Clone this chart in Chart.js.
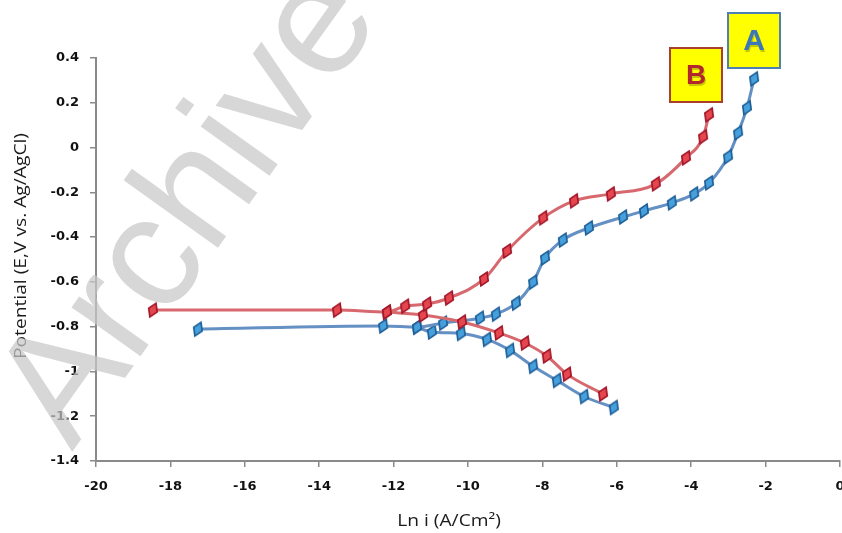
<!DOCTYPE html>
<html><head><meta charset="utf-8">
<script src="https://cdn.jsdelivr.net/npm/chart.js@4.4.1/dist/chart.umd.min.js"></script>
<style>html,body{margin:0;padding:0;background:#fff}canvas{display:block}</style>
</head><body>
<canvas id="c" width="842" height="533"></canvas>
<script>
// ---- data ----
const xTitle = 'Ln i (A/Cm\u00B2)';
const yTitle = 'Potential (E,V vs. Ag/AgCl)';
const xMin = -20, xMax = 0, xStep = 2;
const yMin = -1.4, yMax = 0.4, yStep = 0.2;

// Curve B (red)
const lnB_anodic = [-18.47, -13.52, -12.18, -11.69, -11.10, -10.51, -9.57, -8.95, -7.98, -7.15, -6.16, -4.95, -4.14, -3.68, -3.52];
const eB_anodic  = [-0.726, -0.726, -0.735, -0.708, -0.699, -0.672, -0.587, -0.462, -0.314, -0.238, -0.207, -0.162, -0.046, 0.048, 0.146];
const lnB_cathodic = [-12.18, -11.21, -10.16, -9.17, -8.47, -7.88, -7.34, -6.37];
const eB_cathodic  = [-0.735, -0.748, -0.779, -0.828, -0.873, -0.931, -1.012, -1.101];

// Curve A (blue)
const lnA_anodic = [-17.26, -12.28, -11.37, -10.67, -9.68, -9.25, -8.71, -8.25, -7.93, -7.45, -6.75, -5.83, -5.27, -4.52, -3.92, -3.52, -3.01, -2.74, -2.50, -2.31];
const eA_anodic  = [-0.811, -0.797, -0.802, -0.784, -0.762, -0.744, -0.695, -0.601, -0.493, -0.413, -0.359, -0.310, -0.283, -0.247, -0.207, -0.158, -0.041, 0.066, 0.178, 0.307];
const lnA_cathodic = [-11.37, -10.97, -10.19, -9.49, -8.87, -8.25, -7.61, -6.88, -6.08];
const eA_cathodic  = [-0.802, -0.824, -0.830, -0.857, -0.906, -0.977, -1.040, -1.112, -1.161];

const labelA = 'A', labelB = 'B';
const watermark = 'Archive';

function pts(xs, ys){ return xs.map((x,i)=>({x:x, y:ys[i]})); }

function diamond(fill, stroke){
  const c = document.createElement('canvas');
  c.width = 18; c.height = 18;
  const g = c.getContext('2d');
  g.translate(9,9);
  g.rotate(-1.15);
  g.beginPath();
  g.moveTo(-7.5,0); g.lineTo(0,-4.6); g.lineTo(7.5,0); g.lineTo(0,4.6); g.closePath();
  g.fillStyle = fill; g.fill();
  g.lineWidth = 1.7; g.strokeStyle = stroke; g.stroke();
  return c;
}
const redMark = diamond('#e5474e', '#a3162a');
const blueMark = diamond('#45a0dc', '#1f5f98');

function ds(data, line, mark){
  return {data: data, showLine: true, borderColor: line, borderWidth: 3,
    cubicInterpolationMode: 'monotone', pointStyle: mark, pointRadius: 6, pointHoverRadius: 6,
    backgroundColor: line, fill: false};
}

const fixRight = {
  id: 'fixRight',
  afterLayout(chart){
    const target = chart.width - 2;
    const ca = chart.chartArea;
    if (ca.right !== target) {
      ca.right = target; ca.width = target - ca.left;
      const x = chart.scales.x;
      x.right = target; x.width = target - x.left;
      x.configure();
    }
  }
};

const decor = {
  id: 'decor',
  afterDraw(chart){
    const ctx = chart.ctx;
    ctx.save();
    // axis titles
    ctx.fillStyle = '#1a1a1a';
    ctx.font = '16px "Open Sans", "Liberation Sans", sans-serif';
    ctx.textAlign = 'center'; ctx.textBaseline = 'middle';
    ctx.save();
    ctx.translate(449, 521); ctx.scale(1.2, 1);
    ctx.fillText(xTitle, 0, 0);
    ctx.restore();
    ctx.save();
    ctx.translate(21, 246); ctx.rotate(-Math.PI/2); ctx.scale(1.2, 1);
    ctx.fillText(yTitle, 0, 0);
    ctx.restore();
    // label boxes
    function box(x, y, w, h, border, txt, col, size){
      ctx.fillStyle = '#ffff00'; ctx.fillRect(x, y, w, h);
      ctx.lineWidth = 2; ctx.strokeStyle = border; ctx.strokeRect(x, y, w, h);
      ctx.font = 'bold ' + size + 'px "Liberation Sans", Arial, sans-serif';
      ctx.textAlign = 'center'; ctx.textBaseline = 'middle';
      ctx.fillStyle = 'rgba(0,0,0,0.22)';
      ctx.fillText(txt, x + w/2 + 1, y + h/2 + 3);
      ctx.fillStyle = col;
      ctx.fillText(txt, x + w/2, y + h/2 + 1);
    }
    box(728, 13, 52, 55, '#4f80b4', labelA, '#3b78ba', 30);
    box(670, 48, 52, 54, '#a9402f', labelB, '#b3262c', 28);
    // watermark
    ctx.save();
    ctx.translate(72, 452);
    ctx.rotate(-0.95);
    ctx.font = '160px "Liberation Sans", Arial, sans-serif';
    ctx.textAlign = 'left'; ctx.textBaseline = 'alphabetic';
    ctx.fillStyle = 'rgba(200,200,200,0.72)';
    ctx.fillText(watermark, 0, 0);
    ctx.restore();
    ctx.restore();
  }
};

const tickFont = {family: '"DejaVu Sans", sans-serif', size: 13, weight: 'bold'};

new Chart(document.getElementById('c'), {
  type: 'scatter',
  data: { datasets: [
    ds(pts(lnB_anodic, eB_anodic), '#d7686e', redMark),
    ds(pts(lnB_cathodic, eB_cathodic), '#d7686e', redMark),
    ds(pts(lnA_anodic, eA_anodic), '#6590c4', blueMark),
    ds(pts(lnA_cathodic, eA_cathodic), '#6590c4', blueMark)
  ]},
  options: {
    responsive: false, animation: false,
    layout: {padding: {left: 0, right: 2, top: 58, bottom: 0}},
    plugins: {legend: {display: false}, tooltip: {enabled: false}},
    scales: {
      x: {
        type: 'linear', min: xMin, max: xMax,
        afterFit(s){ s.height = 72; s.paddingRight = 2; s.paddingLeft = 0; },
        border: {color: '#8a8a8a', width: 2},
        grid: {drawOnChartArea: false, drawTicks: true, tickLength: 18, tickBorderDash: [5, 40],
          color: '#8a8a8a', lineWidth: 1.5},
        ticks: {stepSize: xStep, color: '#111', font: tickFont, padding: 0, maxRotation: 0,
          callback: v => String(Math.round(v))}
      },
      y: {
        type: 'linear', min: yMin, max: yMax,
        afterFit(s){ s.width = 96; },
        border: {color: '#8a8a8a', width: 2},
        grid: {drawOnChartArea: false, drawTicks: true, tickLength: 6, color: '#8a8a8a', lineWidth: 1.5},
        ticks: {stepSize: yStep, color: '#111', font: tickFont, padding: 11,
          callback: v => String(Number(v.toFixed(1)))}
      }
    }
  },
  plugins: [fixRight, decor]
});
</script>
</body></html>
